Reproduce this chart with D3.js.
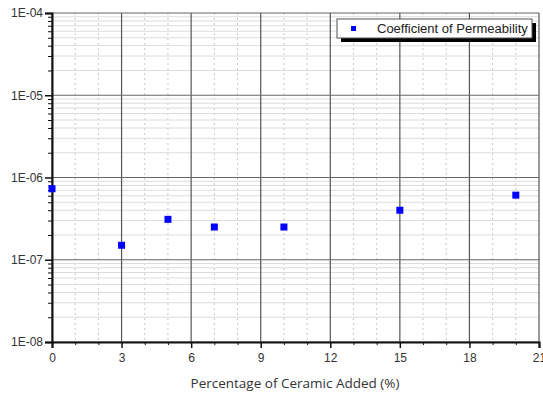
<!DOCTYPE html>
<html>
<head>
<meta charset="utf-8">
<script src="https://cdn.jsdelivr.net/npm/d3@7"></script>
<style>
  html, body { margin: 0; padding: 0; background: #fff; }
  svg { display: block; }
</style>
</head>
<body>
<svg id="chart" width="543" height="394"></svg>
<script>
// Ceramic content (%) and measured coefficient of permeability
const ceramicPct = [0, 3, 5, 7, 10, 15, 20];
const permeability = [7.3e-7, 1.5e-7, 3.1e-7, 2.5e-7, 2.5e-7, 4.0e-7, 6.1e-7];
const xTicks = [0, 3, 6, 9, 12, 15, 18, 21];
const yTicks = [1e-8, 1e-7, 1e-6, 1e-5, 1e-4];
const yTickLabels = ["1E-08", "1E-07", "1E-06", "1E-05", "1E-04"];
const seriesName = "Coefficient of Permeability";
const xTitle = "Percentage of Ceramic Added (%)";

const svg = d3.select("#chart");
const margin = { left: 52, right: 4, top: 13, bottom: 52 };
const W = 543, H = 394;

const x = d3.scaleLinear().domain([0, 21]).range([margin.left, W - margin.right]);
const y = d3.scaleLog().domain([1e-8, 1e-4]).range([H - margin.bottom, margin.top]);

const g = svg.append("g");

// minor vertical grid (every 1 unit, dotted)
const minorX = d3.range(0, 22).filter(v => v % 3 !== 0);
g.selectAll(".vminor").data(minorX).join("line")
  .attr("x1", d => x(d)).attr("x2", d => x(d))
  .attr("y1", y(1e-4)).attr("y2", y(1e-8))
  .attr("stroke", "#c8c8c8").attr("stroke-width", 1)
  .attr("stroke-dasharray", "2,3");

// minor horizontal grid (2..9 within each decade)
const minorY = [];
for (let e = -8; e < -4; e++) for (let k = 2; k <= 9; k++) minorY.push(k * Math.pow(10, e));
g.selectAll(".hminor").data(minorY).join("line")
  .attr("x1", x(0)).attr("x2", x(21))
  .attr("y1", d => y(d)).attr("y2", d => y(d))
  .attr("stroke", "#dcdcdc").attr("stroke-width", 1);

// major grid
g.selectAll(".vmajor").data(xTicks).join("line")
  .attr("x1", d => x(d)).attr("x2", d => x(d))
  .attr("y1", y(1e-4)).attr("y2", y(1e-8))
  .attr("stroke", "#555").attr("stroke-width", 1.2);
g.selectAll(".hmajor").data(yTicks).join("line")
  .attr("x1", x(0)).attr("x2", x(21))
  .attr("y1", d => y(d)).attr("y2", d => y(d))
  .attr("stroke", "#666").attr("stroke-width", 1.2);

// axes
const yAxis = d3.axisLeft(y).tickValues(yTicks)
  .tickFormat((d, i) => yTickLabels[i]).tickSize(7).tickPadding(2);
const yAxisG = g.append("g").attr("transform", `translate(${x(0)},0)`).call(yAxis);
const yMinorAxis = d3.axisLeft(y).tickValues(minorY).tickFormat("").tickSize(4);
g.append("g").attr("transform", `translate(${x(0)},0)`).call(yMinorAxis)
  .call(a => a.select(".domain").remove());

const xAxis = d3.axisBottom(x).tickValues(xTicks).tickFormat(d3.format("d"))
  .tickSize(6).tickPadding(5);
const xAxisG = g.append("g").attr("transform", `translate(0,${y(1e-8)})`).call(xAxis);
const xMinorAxis = d3.axisBottom(x).tickValues(minorX).tickFormat("").tickSize(3);
g.append("g").attr("transform", `translate(0,${y(1e-8)})`).call(xMinorAxis)
  .call(a => a.select(".domain").remove());

[yAxisG, xAxisG].forEach(a => {
  a.select(".domain").attr("stroke", "#111").attr("stroke-width", 2);
  a.selectAll(".tick line").attr("stroke", "#111").attr("stroke-width", 1.5);
  a.selectAll("text").attr("font-family", "Liberation Sans, Arial, sans-serif")
    .attr("font-size", 12).attr("fill", "#333");
});
g.selectAll(".tick line").attr("stroke", "#111");

// data points
g.selectAll(".pt").data(ceramicPct.map((c, i) => [c, permeability[i]])).join("rect")
  .attr("x", d => x(d[0]) - 3.5).attr("y", d => y(d[1]) - 3.5)
  .attr("width", 7).attr("height", 7).attr("fill", "#0000ff");

// legend with drop shadow
const lg = g.append("g").attr("transform", "translate(337,19)");
lg.append("rect").attr("x", 4).attr("y", 4).attr("width", 195).attr("height", 19).attr("fill", "#000");
lg.append("rect").attr("x", 0).attr("y", 0).attr("width", 195).attr("height", 19)
  .attr("fill", "#fff").attr("stroke", "#555").attr("stroke-width", 1);
lg.append("rect").attr("x", 14).attr("y", 7).attr("width", 5).attr("height", 5).attr("fill", "#0000ff");
lg.append("text").attr("x", 40).attr("y", 13.5)
  .attr("font-family", "Liberation Sans, Arial, sans-serif").attr("font-size", 13)
  .attr("fill", "#222").text(seriesName);

// x axis title
svg.append("text").attr("x", 295).attr("y", 388)
  .attr("text-anchor", "middle")
  .attr("font-family", "Open Sans, Noto Sans, sans-serif").attr("font-size", 13.5)
  .attr("fill", "#333").text(xTitle);
</script>
</body>
</html>
